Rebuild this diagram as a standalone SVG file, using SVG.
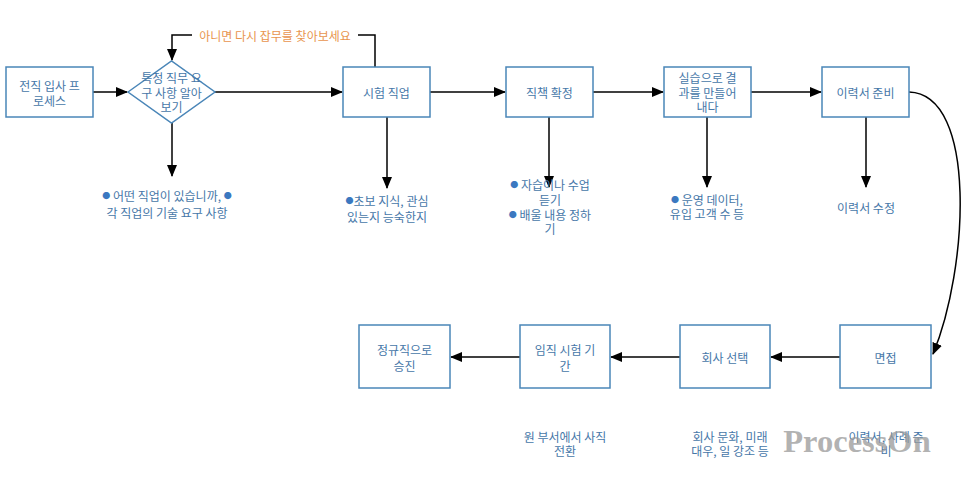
<svg xmlns="http://www.w3.org/2000/svg" width="972" height="501" viewBox="0 0 972 501">
<defs>
<marker id="arr" markerWidth="12" markerHeight="10" refX="11" refY="5" orient="auto" markerUnits="userSpaceOnUse">
<path d="M0,0 L12,5 L0,10 Z" fill="#000"/>
</marker>
<style>
.box{fill:#fff;stroke:#4a86b8;stroke-width:1.5}
.t{font-family:"Noto Sans CJK KR","Noto Sans",sans-serif;font-size:12px;fill:#4677a8;text-anchor:middle;dominant-baseline:central}
.c{fill:none;stroke:#000;stroke-width:1.5}
.b{font-size:8px;fill:#3b78c0}
.o{fill:#e8954e}
</style>
</defs>
<rect width="972" height="501" fill="#fff"/>
<g id="connectors">
<path class="c" d="M93,92 H127" marker-end="url(#arr)"/>
<path class="c" d="M215,92 H342" marker-end="url(#arr)"/>
<path class="c" d="M430,92 H505" marker-end="url(#arr)"/>
<path class="c" d="M593,92 H663" marker-end="url(#arr)"/>
<path class="c" d="M751,92 H821" marker-end="url(#arr)"/>
<path class="c" d="M375,67 V35 H172 V60" marker-end="url(#arr)"/>
<path class="c" d="M172,123 V176" marker-end="url(#arr)"/>
<path class="c" d="M387,117 V188" marker-end="url(#arr)"/>
<path class="c" d="M549,117 V187" marker-end="url(#arr)"/>
<path class="c" d="M707,117 V187" marker-end="url(#arr)"/>
<path class="c" d="M866,117 V187" marker-end="url(#arr)"/>
<path class="c" d="M909,92 C978,94 968,270 933,354" marker-end="url(#arr)"/>
<path class="c" d="M840,357 H771" marker-end="url(#arr)"/>
<path class="c" d="M680,357 H611" marker-end="url(#arr)"/>
<path class="c" d="M520,357 H451" marker-end="url(#arr)"/>
<rect x="192" y="27" width="166" height="16" fill="#fff"/>
<text class="t o" x="275" y="35">아니면 다시 잡무를 찾아보세요</text>
</g>
<g id="n1"><rect class="box" x="6" y="67" width="87" height="50"/><text class="t" x="49.5" y="85">전직 입사 프</text><text class="t" x="49.5" y="100">로세스</text></g>
<g id="n2"><path class="box" d="M128,92 L171.5,61 L215,92 L171.5,123 Z"/><text class="t" x="171.5" y="77">특정 직무 요</text><text class="t" x="171.5" y="92">구 사항 알아</text><text class="t" x="171.5" y="106">보기</text></g>
<g id="n3"><rect class="box" x="343" y="67" width="87" height="50"/><text class="t" x="386.5" y="92">시험 직업</text></g>
<g id="n4"><rect class="box" x="506" y="67" width="87" height="50"/><text class="t" x="549.5" y="92">직책 확정</text></g>
<g id="n5"><rect class="box" x="664" y="67" width="87" height="50"/><text class="t" x="707.5" y="77">실습으로 결</text><text class="t" x="707.5" y="92">과를 만들어</text><text class="t" x="707.5" y="106">내다</text></g>
<g id="n6"><rect class="box" x="822" y="67" width="87" height="50"/><text class="t" x="865.5" y="92">이력서 준비</text></g>
<g id="n7"><rect class="box" x="840" y="325" width="91" height="63"/><text class="t" x="885.5" y="357">면접</text></g>
<g id="n8"><rect class="box" x="680" y="325" width="90" height="63"/><text class="t" x="725" y="357">회사 선택</text></g>
<g id="n9"><rect class="box" x="520" y="325" width="90" height="63"/><text class="t" x="565" y="349">임직 시험 기</text><text class="t" x="565" y="365">간</text></g>
<g id="n10"><rect class="box" x="359" y="325" width="91" height="63"/><text class="t" x="404.5" y="349">정규직으로</text><text class="t" x="404.5" y="365">승진</text></g>
<g id="labels">
<text class="t" x="167" y="195"><tspan class="b">●</tspan> 어떤 직업이 있습니까, <tspan class="b">●</tspan></text>
<text class="t" x="167" y="212">각 직업의 기술 요구 사항</text>
<text class="t" x="387" y="200"><tspan class="b">●</tspan>초보 지식, 관심</text>
<text class="t" x="387" y="216">있는지 능숙한지</text>
<text class="t" x="550" y="184"><tspan class="b">●</tspan> 자습이나 수업</text>
<text class="t" x="550" y="199">듣기</text>
<text class="t" x="550" y="214"><tspan class="b">●</tspan> 배울 내용 정하</text>
<text class="t" x="550" y="228">기</text>
<text class="t" x="707" y="199"><tspan class="b">●</tspan> 운영 데이터,</text>
<text class="t" x="707" y="213">유입 고객 수 등</text>
<text class="t" x="866" y="207">이력서 수정</text>
<text class="t" x="565" y="436">원 부서에서 사직</text>
<text class="t" x="565" y="450">전환</text>
<text class="t" x="730" y="436">회사 문화, 미래</text>
<text class="t" x="730" y="450">대우, 일 강조 등</text>
<text class="t" x="886" y="436">이력서, 사례 준</text>
<text class="t" x="886" y="450">비</text>
</g>
<text x="857" y="452" font-family="'Liberation Serif',serif" font-weight="bold" font-size="32.5" fill="#999" fill-opacity="0.75" text-anchor="middle">ProcessOn</text>
</svg>
